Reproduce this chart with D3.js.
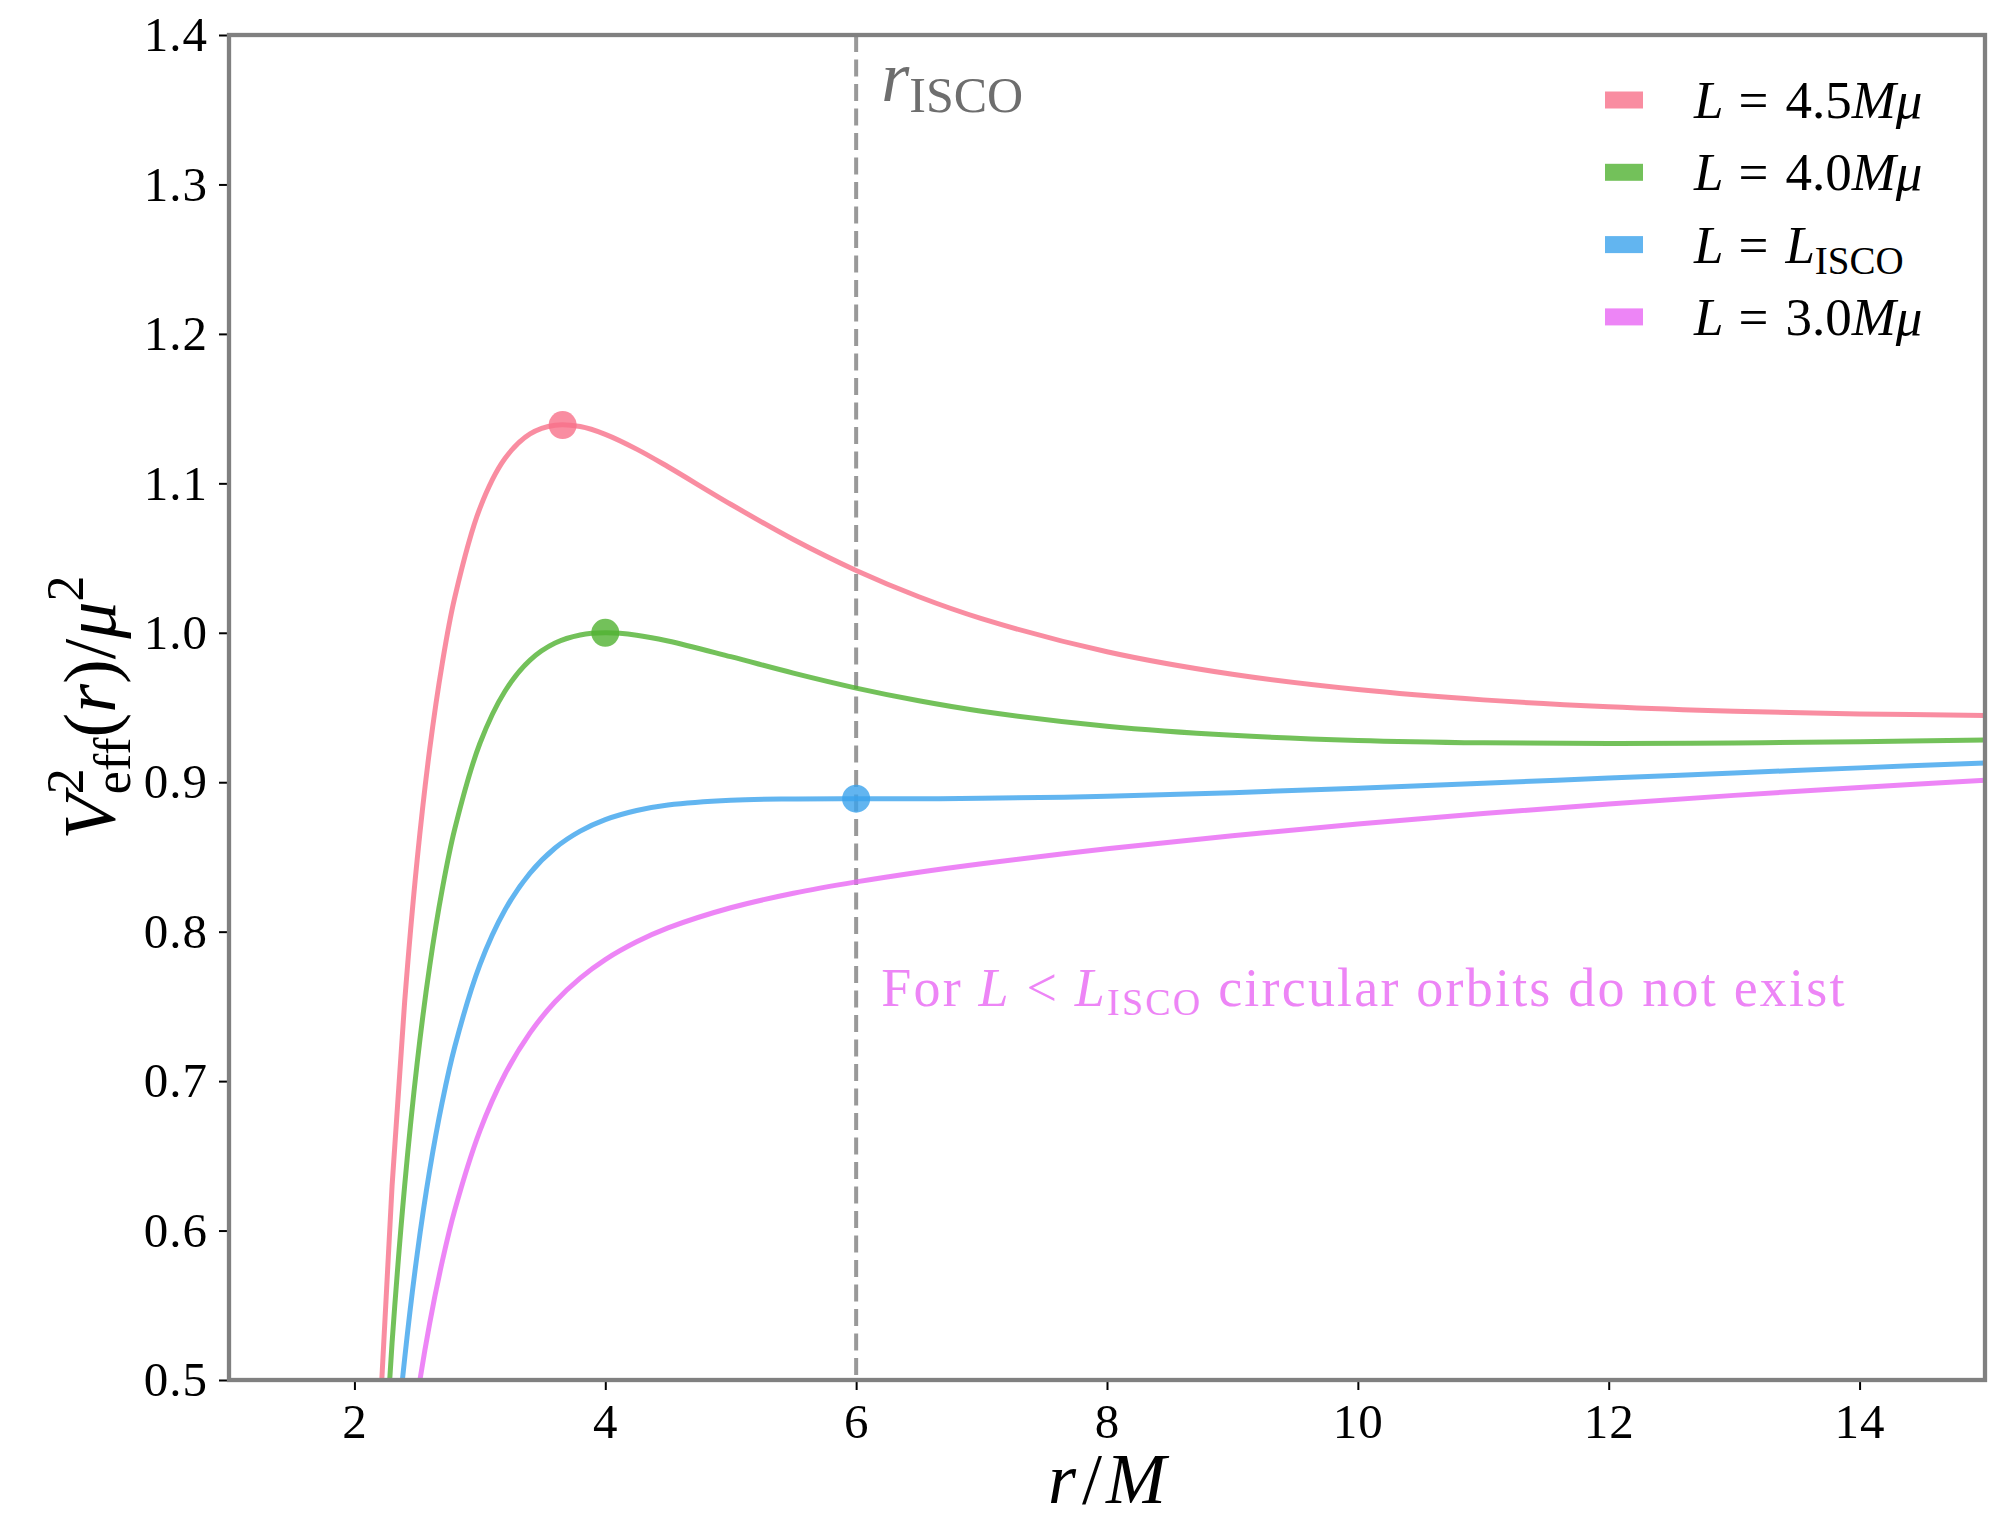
<!DOCTYPE html>
<html>
<head>
<meta charset="utf-8">
<script src="https://cdn.jsdelivr.net/npm/d3@7"></script>
<style>
  body { margin: 0; background: #fff; }
  svg text { font-family: "Liberation Serif", "DejaVu Serif", serif; }
</style>
</head>
<body>
<div class="chart"></div>
<script>
// radius samples (r/M) shared by every curve
var rValues = [2.0, 2.1, 2.2, 2.3, 2.4, 2.5, 2.6, 2.7, 2.8, 3.0, 3.2, 3.4, 3.6, 3.8, 4.0,
               4.25, 4.5, 5.0, 5.5, 6.0, 6.5, 7.0, 8.0, 9.0, 10, 11, 12, 13, 14, 15];

// V_eff^2 / mu^2 for each angular momentum
var vL45 = [0.0, 0.2663, 0.4713, 0.6297, 0.7526, 0.8480, 0.9221, 0.9794, 1.0237, 1.0833, 1.1166, 1.1331, 1.1389, 1.1380, 1.1328,
            1.1229, 1.1111, 1.0860, 1.0624, 1.0417, 1.0241, 1.0095, 0.9873, 0.9722, 0.9620, 0.9551, 0.9505, 0.9475, 0.9457, 0.9447];
var vL40 = [0.0, 0.2204, 0.3914, 0.5249, 0.6296, 0.7120, 0.7770, 0.8283, 0.8688, 0.9259, 0.9609, 0.9817, 0.9931, 0.9985, 1.0000,
            0.9984, 0.9945, 0.9840, 0.9730, 0.9630, 0.9545, 0.9475, 0.9375, 0.9314, 0.9280, 0.9264, 0.9259, 0.9263, 0.9271, 0.9283];
var vLisco = [0.0, 0.1772, 0.3163, 0.4263, 0.5139, 0.5840, 0.6404, 0.6860, 0.7230, 0.7778, 0.8145, 0.8392, 0.8560, 0.8673, 0.8750,
              0.8811, 0.8848, 0.8880, 0.8888, 0.8889, 0.8889, 0.8892, 0.8906, 0.8930, 0.8960, 0.8993, 0.9028, 0.9062, 0.9096, 0.9129];
var vL30 = [0.0, 0.1448, 0.2600, 0.3524, 0.4271, 0.4880, 0.5380, 0.5793, 0.6137, 0.6667, 0.7046, 0.7323, 0.7531, 0.7689, 0.7813,
            0.7932, 0.8025, 0.8160, 0.8257, 0.8333, 0.8398, 0.8455, 0.8555, 0.8642, 0.8720, 0.8790, 0.8854, 0.8912, 0.8965, 0.9013];

var seriesColors = ["#f77189", "#50b131", "#3ba3ec", "#e866f4"];

// legend entries: [text, kind]  kind 0 = roman, 1 = italic, 2 = subscript, 3 = relation sign
var legendLabels = [
    [["L", 1], ["=", 3], ["4.5", 0], ["M", 1], ["\u03bc", 1]],
    [["L", 1], ["=", 3], ["4.0", 0], ["M", 1], ["\u03bc", 1]],
    [["L", 1], ["=", 3], ["L", 1], ["ISCO", 2]],
    [["L", 1], ["=", 3], ["3.0", 0], ["M", 1], ["\u03bc", 1]]
];

// maxima / ISCO markers
var peakR = [3.66, 4.0, 6.0];
var peakV = [1.139, 1.0, 0.889];

var rIsco = 6;
var xTicks = [2, 4, 6, 8, 10, 12, 14];
var yTicks = [0.5, 0.6, 0.7, 0.8, 0.9, 1.0, 1.1, 1.2, 1.3, 1.4];

function init() {
    var w = 2003, h = 1521;
    var left = 229, right = 1985, top = 35, bottom = 1380;

    var svg = d3.select(".chart").append("svg")
        .attr("width", w)
        .attr("height", h);

    var xScale = d3.scaleLinear().domain([1, 15]).range([left, right]);
    var yScale = d3.scaleLinear().domain([0.5, 1.4]).range([bottom, top]);

    svg.append("clipPath").attr("id", "plotClip")
        .append("rect")
        .attr("x", left).attr("y", top)
        .attr("width", right - left).attr("height", bottom - top);

    // dashed r_ISCO line
    svg.append("line")
        .attr("x1", xScale(rIsco)).attr("x2", xScale(rIsco))
        .attr("y1", yScale(1.4)).attr("y2", yScale(0.5))
        .attr("stroke", "#808080")
        .attr("stroke-opacity", 0.8)
        .attr("stroke-width", 4)
        .attr("stroke-dasharray", "17 7.5");

    var allSeries = [vL45, vL40, vLisco, vL30];
    var line = d3.line()
        .x(function(d, i) { return xScale(rValues[i]); })
        .y(function(d) { return yScale(d); })
        .curve(d3.curveCatmullRom.alpha(0.5));

    svg.append("g").attr("clip-path", "url(#plotClip)")
        .selectAll("path")
        .data(allSeries)
        .enter().append("path")
        .attr("d", line)
        .attr("fill", "none")
        .attr("stroke", function(d, i) { return seriesColors[i]; })
        .attr("stroke-opacity", 0.8)
        .attr("stroke-width", 5);

    svg.selectAll(".peak")
        .data(peakR)
        .enter().append("circle")
        .attr("class", "peak")
        .attr("cx", function(d) { return xScale(d); })
        .attr("cy", function(d, i) { return yScale(peakV[i]); })
        .attr("r", 14)
        .attr("fill", function(d, i) { return seriesColors[i]; })
        .attr("fill-opacity", 0.8);

    // axes
    var xAxis = d3.axisBottom(xScale).tickValues(xTicks).tickSize(10).tickSizeOuter(0).tickPadding(13)
        .tickFormat(d3.format("d"));
    var yAxis = d3.axisLeft(yScale).tickValues(yTicks).tickSize(10).tickSizeOuter(0).tickPadding(11)
        .tickFormat(d3.format(".1f"));

    var gx = svg.append("g").attr("transform", "translate(0," + bottom + ")").call(xAxis);
    var gy = svg.append("g").attr("transform", "translate(" + left + ",0)").call(yAxis);
    [gx, gy].forEach(function(g) {
        g.select(".domain").remove();
        g.selectAll(".tick line").attr("stroke", "#000").attr("stroke-width", 2);
        g.selectAll(".tick text")
            .attr("fill", "#000")
            .style("font-family", "'Liberation Serif', serif")
            .style("font-size", "49px")
            .style("letter-spacing", "1px");
    });

    // frame
    svg.append("rect")
        .attr("x", left).attr("y", top)
        .attr("width", right - left).attr("height", bottom - top)
        .attr("fill", "none")
        .attr("stroke", "#808080")
        .attr("stroke-width", 4.3);

    // axis labels
    var xl = svg.append("text")
        .attr("x", (left + right) / 2)
        .attr("y", 1503)
        .attr("text-anchor", "middle")
        .style("font-size", "72px")
        .style("font-style", "italic");
    xl.append("tspan").text("r");
    xl.append("tspan").text("/").attr("dx", 6).style("font-style", "normal");
    xl.append("tspan").text("M").attr("dx", 4);

    var yl = svg.append("text")
        .attr("transform", "translate(115," + ((top + bottom) / 2) + ") rotate(-90)")
        .attr("text-anchor", "middle")
        .style("font-size", "74px");
    yl.append("tspan").text("V").style("font-style", "italic");
    yl.append("tspan").text("2").attr("dy", -32).style("font-size", "52px");
    yl.append("tspan").text("eff").attr("dx", -26).attr("dy", 47).style("font-size", "52px");
    yl.append("tspan").text("(").attr("dy", -15);
    yl.append("tspan").text("r").style("font-style", "italic");
    yl.append("tspan").text(")/");
    yl.append("tspan").text("\u03bc").style("font-style", "italic");
    yl.append("tspan").text("2").attr("dy", -32).style("font-size", "52px");

    // r_ISCO annotation
    var ri = svg.append("text")
        .attr("x", xScale(6.2))
        .attr("y", yScale(1.356))
        .attr("fill", "#6e6e6e")
        .style("font-size", "72px");
    ri.append("tspan").text("r").style("font-style", "italic");
    ri.append("tspan").text("ISCO").attr("dy", 11).style("font-size", "50px");

    // note about L < L_ISCO
    var note = svg.append("text")
        .attr("x", xScale(6.2))
        .attr("y", yScale(0.75))
        .attr("fill", "#ed85f6")
        .style("font-size", "54px")
        .style("letter-spacing", "2.2px");
    note.append("tspan").text("For ");
    note.append("tspan").text("L").style("font-style", "italic");
    note.append("tspan").text(" < ");
    note.append("tspan").text("L").style("font-style", "italic");
    note.append("tspan").text("ISCO").attr("dy", 9).style("font-size", "38px");
    note.append("tspan").text(" circular orbits do not exist").attr("dy", -9);

    // legend
    var legend = svg.append("g");
    legendLabels.forEach(function(parts, i) {
        var cy = 100 + i * 72.3;
        legend.append("rect")
            .attr("x", 1605).attr("y", cy - 8.5)
            .attr("width", 38).attr("height", 17)
            .attr("fill", seriesColors[i])
            .attr("fill-opacity", 0.8);
        var t = legend.append("text")
            .attr("x", 1694).attr("y", cy + 18)
            .attr("fill", "#000")
            .style("font-size", "53px");
        var afterRel = false;
        parts.forEach(function(p) {
            var s = t.append("tspan").text(p[0]);
            if (p[1] === 1) s.style("font-style", "italic");
            if (p[1] === 2) s.attr("dy", 11).style("font-size", "39px");
            if (p[1] === 3) s.attr("dx", 15);
            if (afterRel) s.attr("dx", 17);
            afterRel = p[1] === 3;
        });
    });
}

window.onload = init;
</script>
</body>
</html>
